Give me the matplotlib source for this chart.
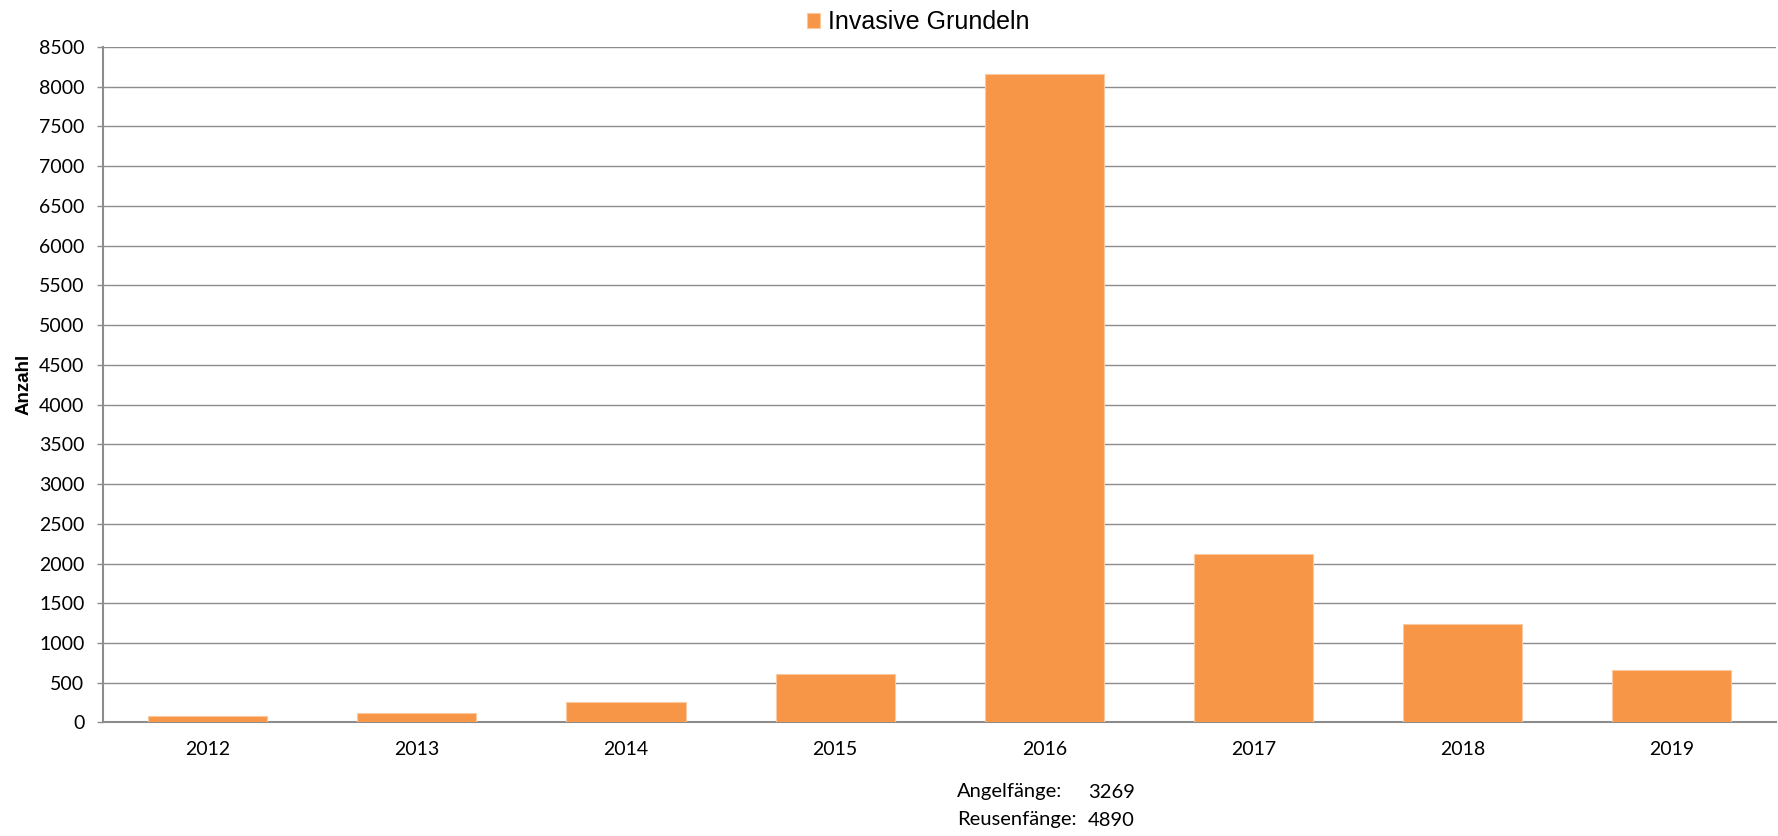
import matplotlib.pyplot as plt
import numpy as np


# 연도별 포획 수
YEARS = ["2012", "2013", "2014", "2015", "2016", "2017", "2018", "2019"]
COUNTS = [80, 115, 255, 605, 8159, 2125, 1245, 660]
SERIES_LABEL = "Invasive Grundeln"

# 2016 내역
NOTE_LABELS = ["Angelfänge:", "Reusenfänge:"]
NOTE_VALUES = [3269, 4890]

BAR_COLOR = "#F79646"
GRID_COLOR = "#8C8C8C"
TEXT_FONT = ["Lato", "DejaVu Sans"]
ARIAL = ["Liberation Sans", "DejaVu Sans"]


def main() -> None:
    fig = plt.figure(figsize=(17.78, 8.36), dpi=100)
    ax = fig.add_axes([0.058, 0.1358, 0.941, 0.808])

    x = np.arange(len(YEARS))
    ax.bar(
        x,
        COUNTS,
        width=0.57,
        color=BAR_COLOR,
        edgecolor="#FBC9A0",
        linewidth=0.8,
        label=SERIES_LABEL,
        zorder=3,
    )

    ax.set_xlim(-0.5, len(YEARS) - 0.5)
    ax.set_ylim(0, 8500)
    ax.set_yticks(np.arange(0, 8501, 500))
    ax.set_xticks(x)
    ax.set_xticklabels(YEARS)

    ax.yaxis.grid(True, color=GRID_COLOR, linewidth=1.0, zorder=0)
    ax.set_axisbelow(True)

    for side in ["top", "right"]:
        ax.spines[side].set_visible(False)
    for side in ["left", "bottom"]:
        ax.spines[side].set_color(GRID_COLOR)
        ax.spines[side].set_linewidth(1.5)

    ax.tick_params(axis="y", length=4.5, width=1.0, color=GRID_COLOR, pad=9,
                   labelsize=14)
    ax.tick_params(axis="x", length=0, pad=13, labelsize=14)
    for lbl in ax.get_xticklabels() + ax.get_yticklabels():
        lbl.set_fontfamily(TEXT_FONT)

    ax.set_ylabel("Anzahl", fontsize=13.5, fontweight="bold", family=ARIAL)
    ax.yaxis.set_label_coords(-0.042, 0.5)

    ax.legend(
        loc="lower center",
        bbox_to_anchor=(0.487, 1.0),
        frameon=False,
        prop={"family": ARIAL, "size": 18},
        handlelength=0.55,
        handleheight=0.55,
        handletextpad=0.3,
        borderaxespad=0.1,
    )

    # 2016 내역 주석
    y_rows = [1 - 792 / 836, 1 - 820 / 836]
    for label, value, y in zip(NOTE_LABELS, NOTE_VALUES, y_rows):
        fig.text(957 / 1778, y, label, ha="left", va="center",
                 fontsize=14.5, family=TEXT_FONT)
        fig.text(1088 / 1778, y, f"{value}", ha="left", va="center",
                 fontsize=14.5, family=TEXT_FONT)

    fig.savefig("out.png", dpi=100)
    plt.close(fig)


if __name__ == "__main__":
    main()
